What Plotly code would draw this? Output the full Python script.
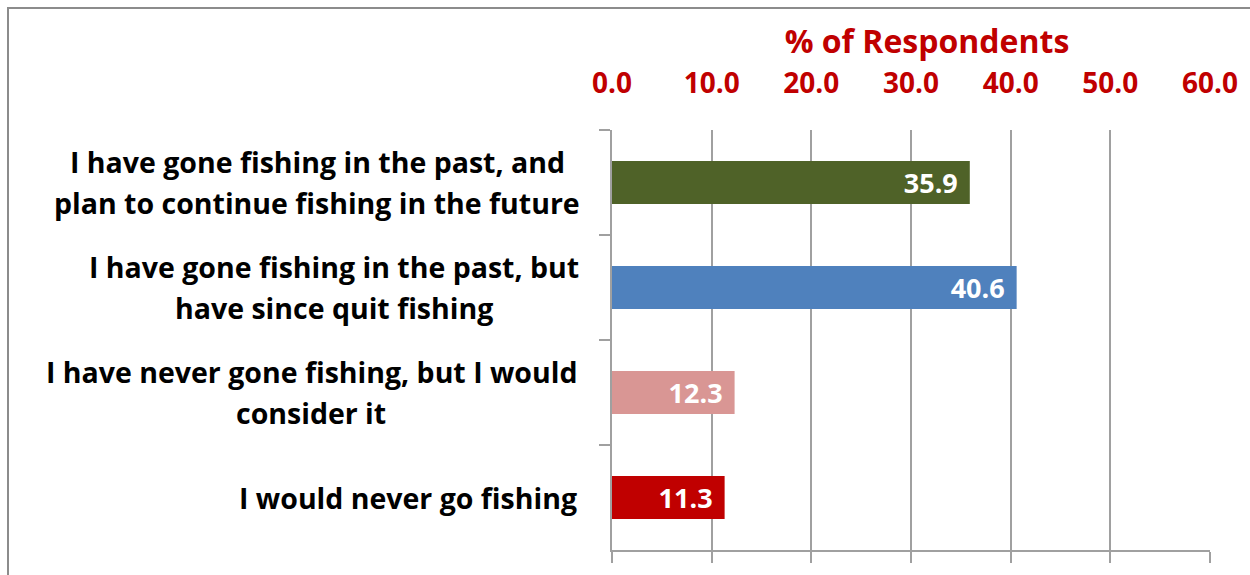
import plotly.graph_objects as go

categories = [
    "I have gone fishing in the past, and<br>plan to continue fishing in the future",
    "I have gone fishing in the past, but<br>have since quit fishing",
    "I have never gone fishing, but I would<br>consider it",
    "I would never go fishing",
]
values = [35.9, 40.6, 12.3, 11.3]
bar_colors = ["#4F6228", "#4F81BD", "#D99694", "#C00000"]
x_ticks = [0, 10, 20, 30, 40, 50, 60]
x_title = "% of Respondents"

FONT = "Open Sans"
RED = "#C00000"
GRID = "#A0A0A0"

l, r, t, b = 612, 40, 130, 25
W, H = 1250, 575
pw, ph = W - l - r, H - t - b

fig = go.Figure()
fig.add_trace(go.Bar(
    y=categories, x=values, orientation="h",
    marker=dict(color=bar_colors, line=dict(width=0)),
    text=[f"{v:.1f}" for v in values],
    texttemplate="%{text}\u2004",
    textposition="inside", insidetextanchor="end",
    textfont=dict(family=FONT, size=27, color="white", weight="bold"),
    constraintext="none",
    showlegend=False, hoverinfo="skip",
))
# invisible trace to activate top axis
fig.add_trace(go.Scatter(x=[0, 60], y=[categories[0], categories[0]], xaxis="x2",
                         mode="markers", marker=dict(opacity=0), showlegend=False, hoverinfo="skip"))

# category labels: centred lines, block right edge at ~579px
label_centers = [317, 333.5, 311, None]
lab_font = dict(family=FONT, size=28.5, color="black", weight="bold")
for c, cx in zip(categories, label_centers):
    lines = c.split("<br>")
    if len(lines) == 1:
        fig.add_annotation(x=(579 - l) / pw, xref="paper", y=c, yref="y", text=lines[0],
                           showarrow=False, xanchor="right", yanchor="middle", font=lab_font)
    else:
        for i, ln in enumerate(lines):
            fig.add_annotation(x=(cx - l) / pw, xref="paper", y=c, yref="y", text=ln,
                               showarrow=False, xanchor="center", yanchor="middle",
                               yshift=20.5 if i == 0 else -20.5, font=lab_font)

# chart border
fig.add_shape(type="rect", xref="paper", yref="paper",
              x0=(8 - l) / pw, x1=(W + 2 - l) / pw,
              y0=-(H + 15 - (H - b)) / ph, y1=1 + (t - 8) / ph,
              line=dict(color="#8C8C8C", width=2), fillcolor="rgba(0,0,0,0)", layer="below")

fig.update_layout(
    width=W, height=H,
    margin=dict(l=l, r=r, t=t, b=b),
    paper_bgcolor="white", plot_bgcolor="white",
    bargap=0.59,
    title=dict(text=x_title, xref="paper", x=(927 - l) / pw, xanchor="center",
               yref="container", y=1 - 42 / H, yanchor="middle",
               font=dict(family=FONT, size=32, color=RED, weight="bold")),
    xaxis=dict(range=[0, 60], tickvals=x_ticks, showgrid=True, gridcolor=GRID, gridwidth=1.5,
               showline=True, linecolor=GRID, linewidth=2, ticks="outside", ticklen=11,
               tickcolor=GRID, tickwidth=1.5, showticklabels=False, zeroline=False, fixedrange=True),
    xaxis2=dict(range=[0, 60], tickvals=x_ticks, overlaying="x", side="top", showgrid=False,
                showline=False, ticks="", zeroline=False, tickformat=".1f",
                ticklabelstandoff=30,
                tickfont=dict(family=FONT, size=28, color=RED, weight="bold")),
    yaxis=dict(autorange="reversed", type="category", showticklabels=False,
               showline=True, linecolor=GRID, linewidth=2, ticks="outside", ticklen=11,
               tickcolor=GRID, tickwidth=1.5, tickson="boundaries", showgrid=False),
)

fig.write_html("out.html")
